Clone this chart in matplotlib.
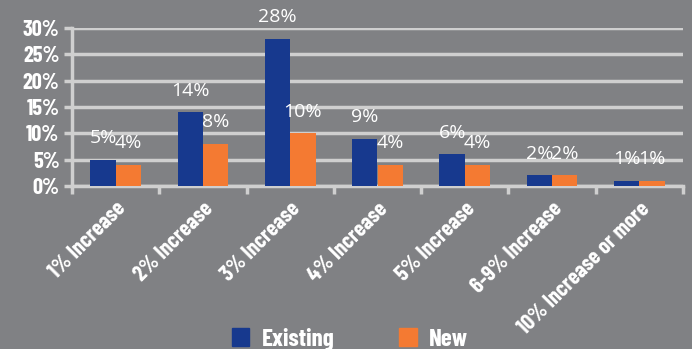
import matplotlib
matplotlib.use("Agg")
import matplotlib.pyplot as plt
import numpy as np
from matplotlib.patches import Patch

categories = ["1% Increase", "2% Increase", "3% Increase", "4% Increase",
              "5% Increase", "6-9% Increase", "10% Increase or more"]
existing = [5, 14, 28, 9, 6, 2, 1]
new = [4, 8, 10, 4, 4, 2, 1]
yticks = [0, 5, 10, 15, 20, 25, 30]
ytick_labels = ["0%", "5%", "10%", "15%", "20%", "25%", "30%"]

BG = "#808184"
GRID = "#cfcfcf"
BLUE = "#17398e"
ORANGE = "#f47a32"
bold_font = ["Barlow Condensed", "DejaVu Sans"]
label_font = ["Open Sans", "DejaVu Sans"]

fig = plt.figure(figsize=(6.92, 3.49), dpi=100, facecolor=BG)
ax = fig.add_axes([72/692, 1-186/349, (683-72)/692, (186-28)/349], facecolor=BG)

x = np.arange(len(categories))
w = 0.29
b1 = ax.bar(x - w/2, existing, w, color=BLUE, zorder=3)
b2 = ax.bar(x + w/2, new, w, color=ORANGE, zorder=3)

for rect, v in zip(b1, existing):
    ax.annotate(f"{v}%", (rect.get_x() + rect.get_width()/2, v), xytext=(0, 9),
                textcoords="offset points", ha="center", va="bottom",
                color="white", fontsize=14, family=label_font, zorder=4)
for rect, v in zip(b2, new):
    ax.annotate(f"{v}%", (rect.get_x() + rect.get_width()/2, v), xytext=(0, 9),
                textcoords="offset points", ha="center", va="bottom",
                color="white", fontsize=14, family=label_font, zorder=4)

ax.set_xlim(-0.5, len(categories) - 0.5)
ax.set_ylim(0, 30)
ax.set_yticks(yticks)
ax.set_yticklabels(ytick_labels, fontsize=16, fontweight="bold", color="white", family=bold_font)
ax.yaxis.grid(True, color=GRID, linewidth=2.5, zorder=0)
ax.set_axisbelow(True)

ax.set_xticks(x)
ax.set_xticklabels(categories, rotation=45, ha="right", rotation_mode="anchor",
                   fontsize=16, fontweight="bold", color="white", family=bold_font)
ax.tick_params(axis="x", length=0, pad=9)
ax.set_xticks(np.arange(-0.5, len(categories)), minor=True)
ax.tick_params(axis="x", which="minor", length=6, width=2.5, color=GRID)
ax.tick_params(axis="y", length=6, width=2.5, color=GRID, pad=3, direction="out")

for s in ["top", "right"]:
    ax.spines[s].set_visible(False)
ax.spines["left"].set_color(GRID)
ax.spines["left"].set_linewidth(2.5)
ax.spines["bottom"].set_color(GRID)
ax.spines["bottom"].set_linewidth(2.5)

handles = [Patch(color=BLUE, label="Existing"), Patch(color=ORANGE, label="New")]
leg = fig.legend(handles=handles, loc="lower center", bbox_to_anchor=(350/692, -0.07),
                 ncol=2, frameon=False, columnspacing=2.6, handlelength=0.7,
                 handleheight=0.7, handletextpad=0.5,
                 prop={"family": bold_font, "weight": "bold", "size": 18})
for t in leg.get_texts():
    t.set_color("white")

fig.savefig("out.png", dpi=100, facecolor=BG)
